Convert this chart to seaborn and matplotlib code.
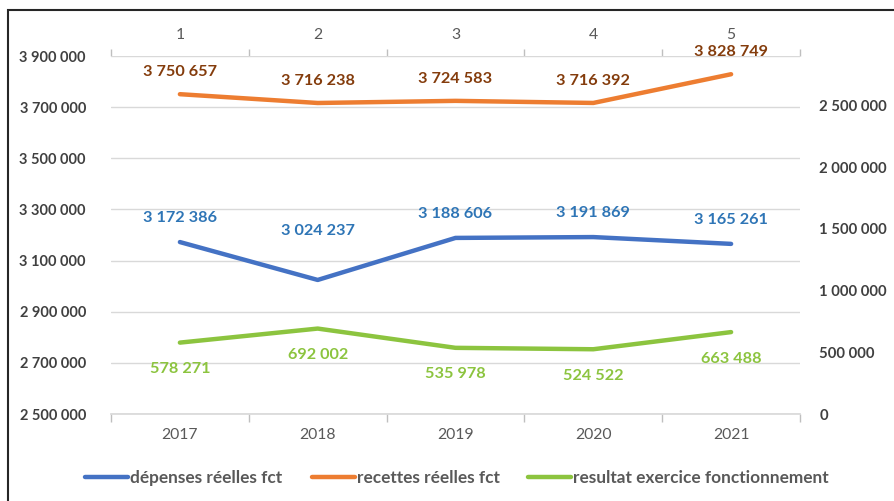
import matplotlib
matplotlib.use("Agg")
import matplotlib.pyplot as plt
import seaborn as sns
import pandas as pd
from matplotlib.patches import Rectangle

years = ["2017", "2018", "2019", "2020", "2021"]
top_labels = ["1", "2", "3", "4", "5"]
depenses = [3172386, 3024237, 3188606, 3191869, 3165261]
recettes = [3750657, 3716238, 3724583, 3716392, 3828749]
resultat = [578271, 692002, 535978, 524522, 663488]
left_ticks = [2500000, 2700000, 2900000, 3100000, 3300000, 3500000, 3700000, 3900000]
right_ticks = [0, 500000, 1000000, 1500000, 2000000, 2500000]

sns.set_theme(style="white")
plt.rcParams['font.family'] = ['Lato', 'DejaVu Sans']

def fmt(v):
    return f"{v:,}".replace(",", " ")

W, H = 895, 501
fig = plt.figure(figsize=(W / 100, H / 100), dpi=100)
x0, x1, y_top, y_bot = 111, 800, 56, 414
ax = fig.add_axes([x0 / W, (H - y_bot) / H, (x1 - x0) / W, (y_bot - y_top) / H])
ax2 = ax.twinx()

idx = list(range(len(years)))
df = pd.DataFrame({"x": idx, "dep": depenses, "rec": recettes, "res": resultat})

c_blue, c_orange, c_green = "#4472C4", "#ED7D31", "#8CC43F"
lbl_blue, lbl_orange, lbl_green = "#2E75B6", "#843C0C", "#8CC43F"

sns.lineplot(data=df, x="x", y="dep", ax=ax, color=c_blue, linewidth=3.2,
             solid_capstyle="round", label="dépenses réelles fct", legend=False)
sns.lineplot(data=df, x="x", y="rec", ax=ax, color=c_orange, linewidth=3.2,
             solid_capstyle="round", label="recettes réelles fct", legend=False)
sns.lineplot(data=df, x="x", y="res", ax=ax2, color=c_green, linewidth=3.2,
             solid_capstyle="round", label="resultat exercice fonctionnement", legend=False)

ax.set_xlim(-0.5, len(years) - 0.5)
ax.set_ylim(2500000, 3900000)
ax2.set_ylim(0, 2900000)

ax.set_yticks(left_ticks)
ax.set_yticklabels([fmt(v) for v in left_ticks])
ax2.set_yticks(right_ticks)
ax2.set_yticklabels([fmt(v) for v in right_ticks])

ax.grid(axis="y", color="#D9D9D9", linewidth=1)
ax.set_axisbelow(True)
for a in (ax, ax2):
    for s in a.spines.values():
        s.set_visible(False)
    a.set_xlabel("")
    a.set_ylabel("")

# bottom category axis
ax.set_xticks(idx)
ax.set_xticklabels(years)
ax.tick_params(axis="x", length=0, pad=10, labelsize=11.3, labelcolor="#595959")
ax.set_xticks([i + 0.5 for i in [-1] + idx], minor=True)
ax.tick_params(axis="x", which="minor", length=6, color="#BFBFBF", direction="out", bottom=True)
ax.spines["bottom"].set_visible(True)
ax.spines["bottom"].set_color("#D9D9D9")

ax.tick_params(axis="y", length=0, pad=18, labelsize=10.5, labelcolor="#404040")
for t in ax.get_yticklabels():
    t.set_fontweight("bold")
ax2.tick_params(axis="y", length=0, pad=14, labelsize=10.7, labelcolor="#404040")
for t in ax2.get_yticklabels():
    t.set_fontweight("bold")

# top category axis
axt = ax.secondary_xaxis("top")
axt.set_xticks(idx)
axt.set_xticklabels(top_labels)
axt.tick_params(axis="x", length=0, pad=10, labelsize=11.3, labelcolor="#595959")
axt.spines["top"].set_visible(False)
axt.set_xticks([i + 0.5 for i in [-1] + idx], minor=True)
axt.tick_params(axis="x", which="minor", length=5, color="#BFBFBF", direction="out", top=True)

# data labels
for i, v in enumerate(recettes):
    ax.annotate(fmt(v), (i, v), xytext=(0, 11), textcoords="offset points",
                ha="center", va="bottom", color=lbl_orange, fontsize=11.7, fontweight="bold")
for i, v in enumerate(depenses):
    off = 30 if i == 1 else 12
    ax.annotate(fmt(v), (i, v), xytext=(0, off), textcoords="offset points",
                ha="center", va="bottom", color=lbl_blue, fontsize=11.7, fontweight="bold")
for i, v in enumerate(resultat):
    ax2.annotate(fmt(v), (i, v), xytext=(0, -14), textcoords="offset points",
                 ha="center", va="top", color=lbl_green, fontsize=11.7, fontweight="bold")

# legend: one entry per anchored legend to match spacing
h1, l1 = ax.get_legend_handles_labels()
h2, l2 = ax2.get_legend_handles_labels()
handles, labels = h1 + h2, l1 + l2
starts = [85, 312, 528]
for h, l, xs in zip(handles, labels, starts):
    leg = fig.legend([h], [l], loc="center left", bbox_to_anchor=(xs / W, (H - 478) / H),
                     frameon=False, fontsize=12.4, handlelength=2.5,
                     handletextpad=0.12, borderpad=0, borderaxespad=0)
    for t in leg.get_texts():
        t.set_color("#595959")
        t.set_fontweight("bold")

# outer frame
fig.patches.append(Rectangle((8 / W, -0.01), 1.2, (H - 10) / H + 0.01,
                             transform=fig.transFigure, fill=False,
                             edgecolor="#262626", linewidth=1.5))

fig.savefig("out.png", dpi=100)
